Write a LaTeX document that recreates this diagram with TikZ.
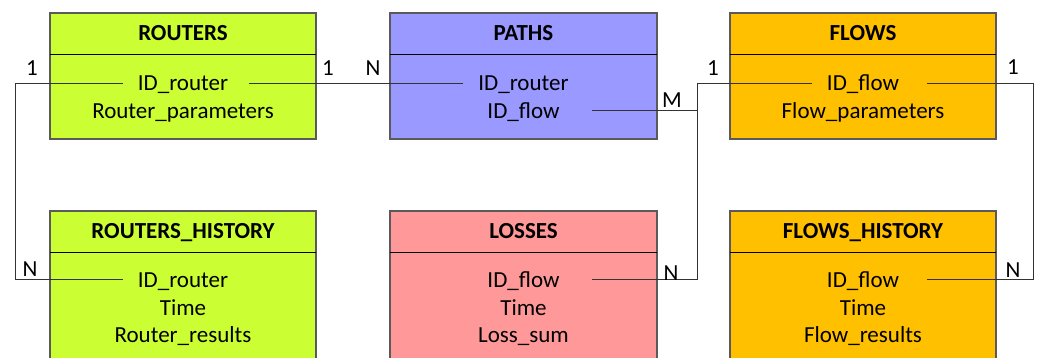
\documentclass[tikz,border=0pt]{standalone}
\usepackage{fontspec}
\setmainfont{Carlito}
\definecolor{routergreen}{HTML}{CCFF33}
\definecolor{pathblue}{HTML}{9999FF}
\definecolor{floworange}{HTML}{FFC000}
\definecolor{losspink}{HTML}{FF9999}
\definecolor{edgegray}{HTML}{5A5A5A}
\definecolor{wiregray}{HTML}{333333}

\begin{document}
\begin{tikzpicture}[x=1pt, y=-1pt,
  tablebox/.style={draw=edgegray, line width=1.2pt},
  divider/.style={black, line width=0.9pt},
  title/.style={font=\fontsize{23}{27}\selectfont\bfseries, anchor=base, inner sep=0pt},
  field/.style={font=\fontsize{23}{27}\selectfont, anchor=base, inner ysep=0pt, inner xsep=15pt, text height=15pt, text depth=0pt},
  card/.style={font=\fontsize{23}{27}\selectfont, inner sep=0pt},
  wire/.style={draw=wiregray, line width=1pt}]

\useasboundingbox (0,0) rectangle (1037,358);

% upper row: routers
\draw[tablebox, fill=routergreen] (50,13) rectangle (316,139);
\draw[divider] (50,54) -- (316,54);
\node[title] (routers) at (183,40.5) {ROUTERS};
\node[field] (r-id) at (183,90.7) {ID\_router};
\node[field] (r-par) at (183,118.5) {Router\_parameters};

% upper row: paths
\draw[tablebox, fill=pathblue] (390,13) rectangle (657,139);
\draw[divider] (390,54) -- (657,54);
\node[title] (paths) at (523.5,40.5) {PATHS};
\node[field] (p-rid) at (523.5,90.7) {ID\_router};
\node[field] (p-flow) at (523.5,118.5) {ID\_flow};

% upper row: flows
\draw[tablebox, fill=floworange] (730,13) rectangle (996,139);
\draw[divider] (730,54) -- (996,54);
\node[title] (flows) at (863,40.5) {FLOWS};
\node[field] (f-id) at (863,90.7) {ID\_flow};
\node[field] (f-par) at (863,118.5) {Flow\_parameters};

% lower row: routers history
\draw[tablebox, fill=routergreen] (50,211) rectangle (316,372);
\draw[divider] (50,252) -- (316,252);
\node[title] (routers-h) at (183,238.7) {ROUTERS\_HISTORY};
\node[field] (rh-id) at (183,287.3) {ID\_router};
\node[field] (rh-time) at (183,315.1) {Time};
\node[field] (rh-res) at (183,342.9) {Router\_results};

% lower row: losses
\draw[tablebox, fill=losspink] (390,211) rectangle (657,372);
\draw[divider] (390,252) -- (657,252);
\node[title] (losses) at (523.5,238.7) {LOSSES};
\node[field] (l-id) at (523.5,287.3) {ID\_flow};
\node[field] (l-time) at (523.5,315.1) {Time};
\node[field] (l-sum) at (523.5,342.9) {Loss\_sum};

% lower row: flows history
\draw[tablebox, fill=floworange] (730,211) rectangle (996,372);
\draw[divider] (730,252) -- (996,252);
\node[title] (flows-h) at (863,238.7) {FLOWS\_HISTORY};
\node[field] (fh-id) at (863,287.3) {ID\_flow};
\node[field] (fh-time) at (863,315.1) {Time};
\node[field] (fh-res) at (863,342.9) {Flow\_results};

% relations
\coordinate (rbus) at (15,0);
\coordinate (mbus) at (697,0);
\coordinate (fbus) at (1033,0);

\draw[wire] (r-id.west) -- (r-id.west -| rbus) |- (rh-id.west);
\draw[wire] ([xshift=6pt]r-id.east) -- (p-rid.west);
\draw[wire] ([xshift=17pt]p-flow.east) -- (p-flow.east -| mbus);
\draw[wire] (f-id.west) -- (f-id.west -| mbus) |- ([xshift=17pt]l-id.east);
\draw[wire] ([xshift=13pt]f-id.east) -- (f-id.east -| fbus) |- ([xshift=13pt]fh-id.east);

% cardinalities
\node[card] (c-r1) at (32,68) {1};
\node[card] (c-r2) at (328,68) {1};
\node[card] (c-pn) at (373,68) {N};
\node[card] (c-pm) at (672,100) {M};
\node[card] (c-f1) at (713,68) {1};
\node[card] (c-f2) at (1013,67) {1};
\node[card] (c-rh) at (30,269) {N};
\node[card] (c-ln) at (671,273) {N};
\node[card] (c-fh) at (1013,270) {N};

\end{tikzpicture}
\end{document}
